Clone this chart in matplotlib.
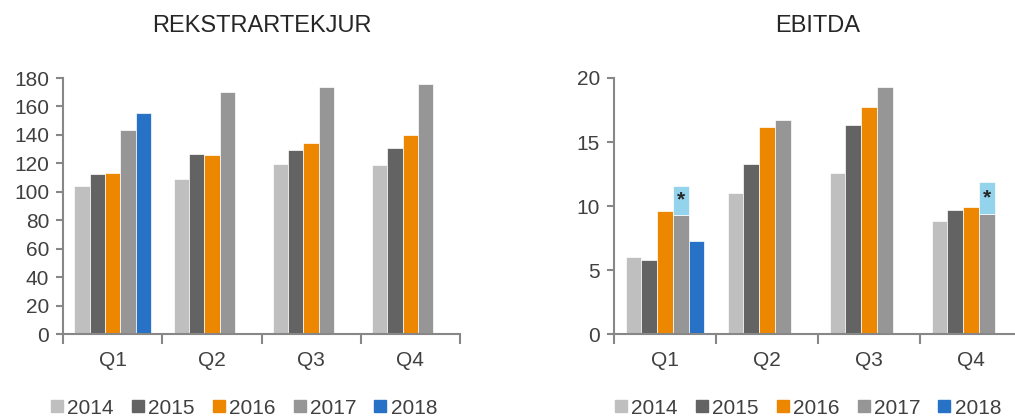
import numpy as np
import matplotlib.pyplot as plt
from matplotlib.lines import Line2D

plt.rcParams['font.family'] = ['Liberation Sans', 'DejaVu Sans']

quarters = ["Q1", "Q2", "Q3", "Q4"]
years = ["2014", "2015", "2016", "2017", "2018"]
colors = ["#BFBFBF", "#636363", "#EE8700", "#969696", "#2771C6"]
star_color = "#93D3EC"

# REKSTRARTEKJUR (revenue), one list per year, None = no data
rev_2014 = [104, 109, 119.3, 118.6]
rev_2015 = [112.5, 126.3, 129.6, 130.5]
rev_2016 = [113, 126, 134, 140.2]
rev_2017 = [143.4, 170.4, 173.7, 175.6]
rev_2018 = [155.6, None, None, None]

# EBITDA
ebitda_2014 = [6.0, 11.0, 12.6, 8.85]
ebitda_2015 = [5.8, 13.3, 16.35, 9.7]
ebitda_2016 = [9.6, 16.2, 17.75, 9.9]
ebitda_2017 = [9.3, 16.7, 19.3, 9.4]
ebitda_2018 = [7.3, None, None, None]
# adjusted 2017 EBITDA (the "*" part on top)
ebitda_2017_adj = [11.6, None, None, 11.9]

text_col = "#404040"
axis_col = "#878787"

fig = plt.figure(figsize=(10.15, 4.19), dpi=100)
ax1 = fig.add_axes([63 / 1015, 85 / 419, 397 / 1015, 256 / 419])
ax2 = fig.add_axes([614 / 1015, 85 / 419, 408 / 1015, 256 / 419])

w = 0.154
x = np.arange(len(quarters))


def draw(ax, series, ymax, step, title):
    for i, vals in enumerate(series):
        xs = [x[j] + (i - 2) * w for j, v in enumerate(vals) if v is not None]
        hs = [v for v in vals if v is not None]
        ax.bar(xs, hs, width=w, color=colors[i], edgecolor="white", linewidth=0.5)
    ax.set_xlim(-0.5, 3.5)
    ax.set_ylim(0, ymax)
    ax.set_yticks(np.arange(0, ymax + 1, step))
    ax.set_xticks(x)
    ax.set_xticklabels(quarters)
    ax.set_xticks(np.arange(-0.5, 4.0, 1.0), minor=True)
    ax.tick_params(axis="x", which="major", length=0, pad=12, labelsize=15, colors=text_col)
    ax.tick_params(axis="x", which="minor", length=7, width=1.5, color=axis_col)
    ax.tick_params(axis="y", length=5, width=1.5, color=axis_col, labelsize=15,
                   labelcolor=text_col, pad=5)
    for s in ["top", "right"]:
        ax.spines[s].set_visible(False)
    for s in ["left", "bottom"]:
        ax.spines[s].set_color(axis_col)
        ax.spines[s].set_linewidth(1.5)
    ax.set_title(title, fontsize=17, color="#262626", pad=33)
    handles = [Line2D([], [], marker="s", linestyle="", markersize=8,
                      markerfacecolor=c, markeredgecolor=c) for c in colors]
    return handles


h = draw(ax1, [rev_2014, rev_2015, rev_2016, rev_2017, rev_2018], 180, 20, "REKSTRARTEKJUR")
draw(ax2, [ebitda_2014, ebitda_2015, ebitda_2016, ebitda_2017, ebitda_2018], 20, 5, "EBITDA")

# adjusted part above the 2017 EBITDA bars
for j, adj in enumerate(ebitda_2017_adj):
    if adj is None:
        continue
    base = ebitda_2017[j]
    xc = x[j] + w
    ax2.bar(xc, adj - base, bottom=base, width=w, color=star_color, edgecolor="white", linewidth=0.5)
    ax2.text(xc, (adj + base) / 2, "*", ha="center", va="center", fontsize=15,
             color="#262626", fontweight="bold")

for cx in [244 / 1015, 808 / 1015]:
    fig.legend(h, years, loc="center", bbox_to_anchor=(cx, 11 / 419), ncol=5,
               frameon=False, fontsize=15, handlelength=0.6, handletextpad=0.2,
               columnspacing=0.85, labelcolor=text_col)

fig.savefig("out.png", dpi=100)
